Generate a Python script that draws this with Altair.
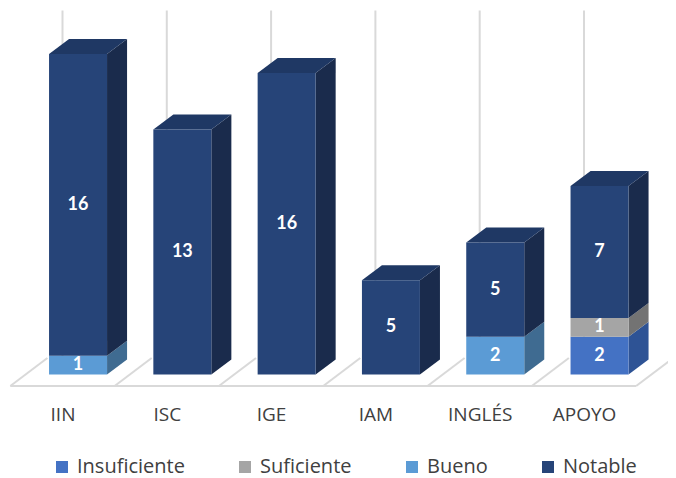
import json
import altair as alt
import pandas as pd

# ---- data ----
categories = ["IIN", "ISC", "IGE", "IAM", "INGLÉS", "APOYO"]
series = ["Insuficiente", "Suficiente", "Bueno", "Notable"]
insuficiente = [0, 0, 0, 0, 0, 2]
suficiente = [0, 0, 0, 0, 0, 1]
bueno = [1, 0, 0, 0, 2, 0]
notable = [16, 13, 16, 5, 5, 7]
values = {"Insuficiente": insuficiente, "Suficiente": suficiente,
          "Bueno": bueno, "Notable": notable}

# ---- styling ----
front_colors = ["#4472C4", "#A5A5A5", "#5B9BD5", "#264478"]
side_colors = {"Insuficiente": "#2E5395", "Suficiente": "#737373",
               "Bueno": "#3F6B91", "Notable": "#1A2B4C"}
top_colors = {"Insuficiente": "#3A62A8", "Suficiente": "#8C8C8C",
              "Bueno": "#4E85B8", "Notable": "#1F3864"}
GRID = "#D9D9D9"

# 3D geometry (in data units)
OFF = 0.149      # bar front centre offset from category centre
HW = 0.278       # half width of bar front face
DX = 0.192       # bar depth, horizontal
DV = 0.796       # bar depth, vertical
FLOOR_FRONT = -0.61
FLOOR_BACK = 0.875
FLOOR_DX = 0.355
GRID_TOP = 19.31

XDOM = [-0.5225, 5.8054]
YDOM = [-0.610, 19.443]

front_rows, side_rows, top_rows = [], [], []
seg = 0
for i, cat in enumerate(categories):
    cum = 0
    last = None
    for s in series:
        v = values[s][i]
        if v <= 0:
            continue
        x0, x1 = i + OFF - HW, i + OFF + HW
        front_rows.append(dict(cat=cat, series=s, x0=x0, x1=x1, y0=cum,
                               y1=cum + v, xm=i + OFF, ym=cum + v / 2,
                               label=str(v)))
        side_rows.append(dict(seg=seg, x=x1, lo=cum, hi=cum + v,
                              c=side_colors[s]))
        side_rows.append(dict(seg=seg, x=x1 + DX, lo=cum + DV,
                              hi=cum + v + DV, c=side_colors[s]))
        last = (s, x0, x1, cum + v)
        cum += v
        seg += 1
    if last:
        s, x0, x1, tot = last
        top_rows.append(dict(seg=i, y=tot, xl=x0, xr=x1, c=top_colors[s]))
        top_rows.append(dict(seg=i, y=tot + DV, xl=x0 + DX, xr=x1 + DX,
                             c=top_colors[s]))

front_df = pd.DataFrame(front_rows)
side_df = pd.DataFrame(side_rows)
top_df = pd.DataFrame(top_rows)

floor_rows = [dict(x=-0.5, x2=len(categories) - 0.5, y=FLOOR_FRONT, y2=FLOOR_FRONT)]
for k in range(len(categories) + 1):
    floor_rows.append(dict(x=k - 0.5, x2=k - 0.5 + FLOOR_DX, y=FLOOR_FRONT,
                           y2=FLOOR_BACK))
floor_df = pd.DataFrame(floor_rows)
grid_df = pd.DataFrame(dict(x=list(range(len(categories))),
                            y=[FLOOR_BACK] * len(categories),
                            y2=[GRID_TOP] * len(categories)))

xscale = alt.Scale(domain=XDOM, nice=False, zero=False)
yscale = alt.Scale(domain=YDOM, nice=False, zero=False)
label_expr = json.dumps(categories) + "[datum.value]"
xaxis = alt.Axis(values=list(range(len(categories))), labelExpr=label_expr,
                 title=None, domain=False, ticks=False, grid=False,
                 labelFont="Open Sans", labelFontSize=19, labelColor="#404040",
                 labelPadding=19, labelFlush=False, labelOverlap=False)

floor = alt.Chart(floor_df).mark_rule(color=GRID, strokeWidth=2).encode(
    x=alt.X("x:Q", scale=xscale, axis=xaxis),
    x2="x2:Q",
    y=alt.Y("y:Q", scale=yscale, axis=None),
    y2="y2:Q",
)
grid = alt.Chart(grid_df).mark_rule(color=GRID, strokeWidth=2).encode(
    x=alt.X("x:Q", scale=xscale, axis=xaxis),
    y=alt.Y("y:Q", scale=yscale, axis=None),
    y2="y2:Q",
)
sides = alt.Chart(side_df).mark_area(strokeWidth=0, opacity=1).encode(
    x=alt.X("x:Q", scale=xscale, axis=xaxis),
    y=alt.Y("hi:Q", scale=yscale, axis=None, stack=None),
    y2="lo:Q",
    detail="seg:N",
    color=alt.Color("c:N", scale=None),
)
tops = alt.Chart(top_df).mark_area(orient="horizontal", strokeWidth=0,
                                   opacity=1).encode(
    y=alt.Y("y:Q", scale=yscale, axis=None),
    x=alt.X("xl:Q", scale=xscale, axis=xaxis, stack=None),
    x2="xr:Q",
    detail="seg:N",
    color=alt.Color("c:N", scale=None),
)
fronts = alt.Chart(front_df).mark_rect(strokeWidth=0).encode(
    x=alt.X("x0:Q", scale=xscale, axis=xaxis),
    x2="x1:Q",
    y=alt.Y("y0:Q", scale=yscale, axis=None),
    y2="y1:Q",
    color=alt.Color("series:N",
                    scale=alt.Scale(domain=series, range=front_colors),
                    legend=alt.Legend(title=None, orient="none",
                                      direction="horizontal",
                                      legendX=44, legendY=449,
                                      symbolType="square", symbolSize=144,
                                      symbolStrokeWidth=0,
                                      labelFont="Open Sans",
                                      labelFontSize=20,
                                      labelColor="#404040",
                                      labelOffset=5, columnPadding=50,
                                      labelLimit=300)),
)
labels = alt.Chart(front_df).mark_text(color="white", font="Lato",
                                       fontWeight="bold", fontSize=18,
                                       baseline="middle").encode(
    x=alt.X("xm:Q", scale=xscale, axis=xaxis),
    y=alt.Y("ym:Q", scale=yscale, axis=None),
    text="label:N",
)

chart = alt.layer(floor, grid, sides, tops, fronts, labels).properties(
    width=660, height=378,
    autosize=alt.AutoSizeParams(type="none"),
    padding={"left": 0, "top": 0, "right": 0, "bottom": 92},
    background="white",
).configure_view(stroke=None)

chart.save("out.html", embed_options={"renderer": "svg", "actions": False})
